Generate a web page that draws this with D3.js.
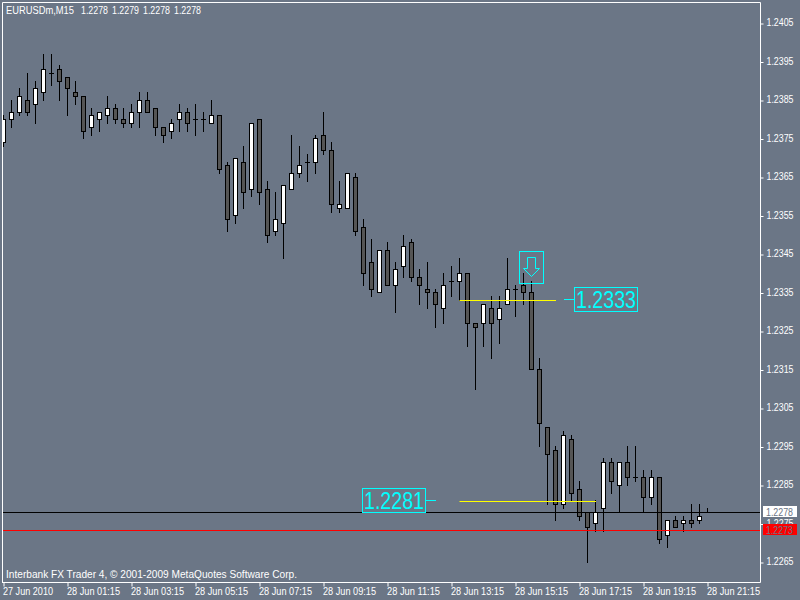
<!DOCTYPE html>
<html><head><meta charset="utf-8">
<script src="https://cdn.jsdelivr.net/npm/d3@7/dist/d3.min.js"></script>
<style>html,body{margin:0;padding:0;background:#6b7686}svg{display:block}text{font-family:"Liberation Sans",sans-serif}</style>
</head><body><svg id="c" width="800" height="600"></svg>
<script>
const opens=[1.2374,1.2380,1.2382,1.2385,1.2384,1.2387,1.2392,1.2393,1.2391,1.2387,1.2386,1.2378,1.2380,1.2381,1.2383,1.2380,1.2379,1.2382,1.2385,1.2383,1.2378,1.2377,1.2380,1.2382,1.2380,1.2380,1.2379,1.2381,1.2368,1.2355,1.2369,1.2362,1.2380,1.2362,1.2351,1.2353,1.2362,1.2366,1.2369,1.2369,1.2376,1.2372,1.2357,1.2357,1.2365,1.2352,1.2343,1.2335,1.2346,1.2337,1.2342,1.2348,1.2339,1.2336,1.2335,1.2331,1.2338,1.2338,1.2340,1.2327,1.2327,1.2331,1.2328,1.2332,1.2336,1.2337,1.2335,1.2315,1.2300,1.2294,1.2280,1.2297,1.2284,1.2278,1.2275,1.2279,1.2291,1.2285,1.2291,1.2287,1.2287,1.2282,1.2287,1.2272,1.2276,1.2275,1.2276,1.2276,1.2278];
const highs=[1.2381,1.2385,1.2388,1.2392,1.2390,1.2397,1.2397,1.2394,1.2391,1.2390,1.2386,1.2383,1.2382,1.2386,1.2384,1.2383,1.2384,1.2387,1.2387,1.2383,1.2378,1.2380,1.2384,1.2383,1.2384,1.2382,1.2385,1.2381,1.2369,1.2370,1.2373,1.2379,1.2380,1.2364,1.2361,1.2363,1.2376,1.2373,1.2371,1.2376,1.2382,1.2374,1.2364,1.2366,1.2366,1.2354,1.2349,1.2346,1.2348,1.2343,1.2350,1.2349,1.2341,1.2343,1.2336,1.2340,1.2342,1.2344,1.2340,1.2327,1.2332,1.2334,1.2334,1.2344,1.2337,1.2340,1.2338,1.2318,1.2300,1.2295,1.2299,1.2298,1.2286,1.2278,1.2281,1.2292,1.2292,1.2291,1.2295,1.2295,1.2289,1.2289,1.2287,1.2276,1.2277,1.2277,1.2280,1.2280,1.2279];
const lows=[1.2373,1.2378,1.2381,1.2381,1.2379,1.2385,1.2389,1.2385,1.2381,1.2384,1.2375,1.2376,1.2377,1.2379,1.2379,1.2378,1.2378,1.2378,1.2382,1.2376,1.2374,1.2375,1.2377,1.2377,1.2376,1.2377,1.2379,1.2366,1.2351,1.2353,1.2357,1.2360,1.2358,1.2348,1.2350,1.2344,1.2362,1.2365,1.2364,1.2366,1.2371,1.2356,1.2356,1.2357,1.2350,1.2337,1.2334,1.2335,1.2337,1.2330,1.2339,1.2338,1.2332,1.2331,1.2326,1.2327,1.2334,1.2333,1.2321,1.2310,1.2321,1.2318,1.2322,1.2332,1.2329,1.2332,1.2315,1.2295,1.2280,1.2276,1.2279,1.2281,1.2276,1.2265,1.2273,1.2273,1.2283,1.2278,1.2285,1.2286,1.2278,1.2280,1.2270,1.2269,1.2274,1.2273,1.2274,1.2275,1.2278];
const closes=[1.2380,1.2382,1.2386,1.2382,1.2388,1.2393,1.2392,1.2390,1.2388,1.2386,1.2377,1.2381,1.2382,1.2383,1.2380,1.2379,1.2382,1.2385,1.2382,1.2378,1.2376,1.2379,1.2382,1.2379,1.2380,1.2380,1.2381,1.2367,1.2354,1.2370,1.2361,1.2379,1.2361,1.2350,1.2354,1.2363,1.2366,1.2368,1.2369,1.2375,1.2372,1.2358,1.2358,1.2366,1.2351,1.2340,1.2336,1.2346,1.2337,1.2341,1.2347,1.2339,1.2337,1.2335,1.2332,1.2337,1.2338,1.2340,1.2327,1.2326,1.2332,1.2327,1.2331,1.2336,1.2336,1.2335,1.2315,1.2301,1.2293,1.2280,1.2298,1.2283,1.2277,1.2274,1.2278,1.2291,1.2286,1.2291,1.2287,1.2287,1.2282,1.2287,1.2271,1.2276,1.2274,1.2276,1.2275,1.2277,1.2278];
const priceTicks=[1.2405,1.2395,1.2385,1.2375,1.2365,1.2355,1.2345,1.2335,1.2325,1.2315,1.2305,1.2295,1.2285,1.2275,1.2265];
const timeTickBars=[0,8,16,24,32,40,48,56,64,72,80,88];
const timeTickLabels=["27 Jun 2010","28 Jun 01:15","28 Jun 03:15","28 Jun 05:15","28 Jun 07:15","28 Jun 09:15","28 Jun 11:15","28 Jun 13:15","28 Jun 15:15","28 Jun 17:15","28 Jun 19:15","28 Jun 21:15"];
const headerSymbol="EURUSDm,M15";
const headerValues=[1.2278,1.2279,1.2278,1.2278];
const footerText="Interbank FX Trader 4, \u00a9 2001-2009 MetaQuotes Software Corp.";
const bidPrice=1.2278, askPrice=1.22732;
const entryLine={price:1.2333,from:57,to:69};
const exitLine={price:1.22808,from:57,to:74};
const arrowBar=65.98, arrowPrice=1.2343;

const BG="#6b7686",DARK="#555555",CY="#00ffff";
const fmt=d3.format(".4f");
const x=d3.scaleLinear().domain([0,88]).range([3,707]);
const y=d3.scaleLinear().domain([1.2265,1.2405]).range([562,23]);
const ry=p=>Math.round(y(p))+.5, rx=i=>Math.round(x(i))+.5;
const svg=d3.select("#c");
svg.append("rect").attr("width",800).attr("height",600).attr("fill",BG);
svg.append("defs").append("clipPath").attr("id","plot").append("rect").attr("x",3).attr("y",3).attr("width",757).attr("height",579);

// axes
const ay=d3.axisRight(y).tickValues(priceTicks).tickFormat(fmt).tickSize(3).tickPadding(3);
const gy=svg.append("g").attr("transform","translate(760.5,0.5)").call(ay);
const ax=d3.axisBottom(x).tickValues(timeTickBars).tickFormat((d,i)=>timeTickLabels[i]).tickSize(4);
const gx=svg.append("g").attr("transform","translate(0.5,582.5)").call(ax);
[gy,gx].forEach(g=>{g.select(".domain").remove();g.selectAll("line").attr("stroke","#fff");g.selectAll("text").attr("fill","#fff").attr("font-size",10).attr("font-family",'"Liberation Sans",sans-serif');});
gx.selectAll("text").attr("text-anchor","start").attr("x",-1).attr("y",5).attr("textLength",(d,i)=>i==0?50:53).attr("lengthAdjust","spacingAndGlyphs");
gy.selectAll("text").attr("dy","0.22em").attr("textLength",27).attr("lengthAdjust","spacingAndGlyphs");

// frame
const fr=svg.append("g").attr("stroke","#fff").attr("fill","none");
fr.append("path").attr("d","M2.5,582V2.5H760.5V582.5H2");

// candles
const data=opens.map((o,i)=>({i,o,h:highs[i],l:lows[i],c:closes[i]}));
const plot=svg.append("g").attr("clip-path","url(#plot)");
const g=plot.selectAll("g").data(data).join("g");
g.append("line").attr("x1",d=>rx(d.i)).attr("x2",d=>rx(d.i)).attr("y1",d=>ry(d.h)-.5).attr("y2",d=>ry(d.l)+.5).attr("stroke","#000");
g.filter(d=>d.o!==d.c).append("rect").attr("x",d=>rx(d.i)-2).attr("width",4)
 .attr("y",d=>ry(Math.max(d.o,d.c))).attr("height",d=>ry(Math.min(d.o,d.c))-ry(Math.max(d.o,d.c)))
 .attr("fill",d=>d.c>d.o?"#fff":DARK).attr("stroke","#000");
g.filter(d=>d.o===d.c).append("line").attr("x1",d=>rx(d.i)-2.5).attr("x2",d=>rx(d.i)+2.5).attr("y1",d=>ry(d.o)).attr("y2",d=>ry(d.o)).attr("stroke","#000");

// horizontal lines
plot.append("line").attr("x1",3).attr("x2",760).attr("y1",ry(bidPrice)).attr("y2",ry(bidPrice)).attr("stroke","#000");
plot.append("line").attr("x1",3).attr("x2",760).attr("y1",ry(askPrice)).attr("y2",ry(askPrice)).attr("stroke","#ff0000");
[entryLine,exitLine].forEach(l=>plot.append("line").attr("x1",rx(l.from)).attr("x2",rx(l.to)+.5).attr("y1",ry(l.price)).attr("y2",ry(l.price)).attr("stroke","#ffff00"));

// signal arrow
const ax0=Math.round(x(arrowBar)), ay0=Math.round(y(arrowPrice));
const ar=svg.append("g").attr("fill","none").attr("stroke",CY).attr("transform",`translate(${ax0},${ay0})`);
ar.append("rect").attr("x",-11.5).attr("y",-10.5).attr("width",24).attr("height",32);
ar.append("path").attr("d","M-3.5,-4.5H4.5V6.5H8.5L.5,14.5L-7.5,6.5H-3.5Z");

// value boxes
function box(l,boxX,side){
 const cy=ry(l.price)-1;
 const t=svg.append("g");
 const lx=side>0?[boxX-10,boxX]:[boxX+64,boxX+74];
 t.append("line").attr("x1",lx[0]).attr("x2",lx[1]).attr("y1",cy).attr("y2",cy).attr("stroke",CY);
 t.append("rect").attr("x",boxX+.5).attr("y",cy-12).attr("width",63).attr("height",24).attr("fill","none").attr("stroke",CY);
 t.append("text").attr("x",boxX+2).attr("y",cy+8.5).attr("font-size",23).attr("fill",CY).attr("textLength",60).attr("lengthAdjust","spacingAndGlyphs").text(fmt(l.price));
}
box(entryLine,574,1);
box(exitLine,362,-1);

// price labels
[[bidPrice,"#fff"],[askPrice,"#ff0000"]].forEach(([p,col])=>{
 const yy=Math.round(y(p));
 svg.append("rect").attr("x",763).attr("y",yy-6).attr("width",34).attr("height",11).attr("fill",col);
 svg.append("text").attr("x",766).attr("y",yy+3.5).attr("font-size",10).attr("fill",BG).attr("textLength",27).attr("lengthAdjust","spacingAndGlyphs").text(fmt(p));
});

// header & footer
const hdr=svg.append("g").attr("fill","#fff").attr("font-size",10.5);
hdr.append("text").attr("x",6).attr("y",14).attr("textLength",68).attr("lengthAdjust","spacingAndGlyphs").text(headerSymbol);
hdr.selectAll("text.v").data(headerValues).join("text").attr("class","v").attr("x",(d,i)=>81+31*i).attr("y",14).attr("textLength",27).attr("lengthAdjust","spacingAndGlyphs").text(fmt);
svg.append("text").attr("x",6).attr("y",578).attr("fill","#fff").attr("font-size",10.5).attr("textLength",291).attr("lengthAdjust","spacingAndGlyphs").text(footerText);
</script></body></html>
